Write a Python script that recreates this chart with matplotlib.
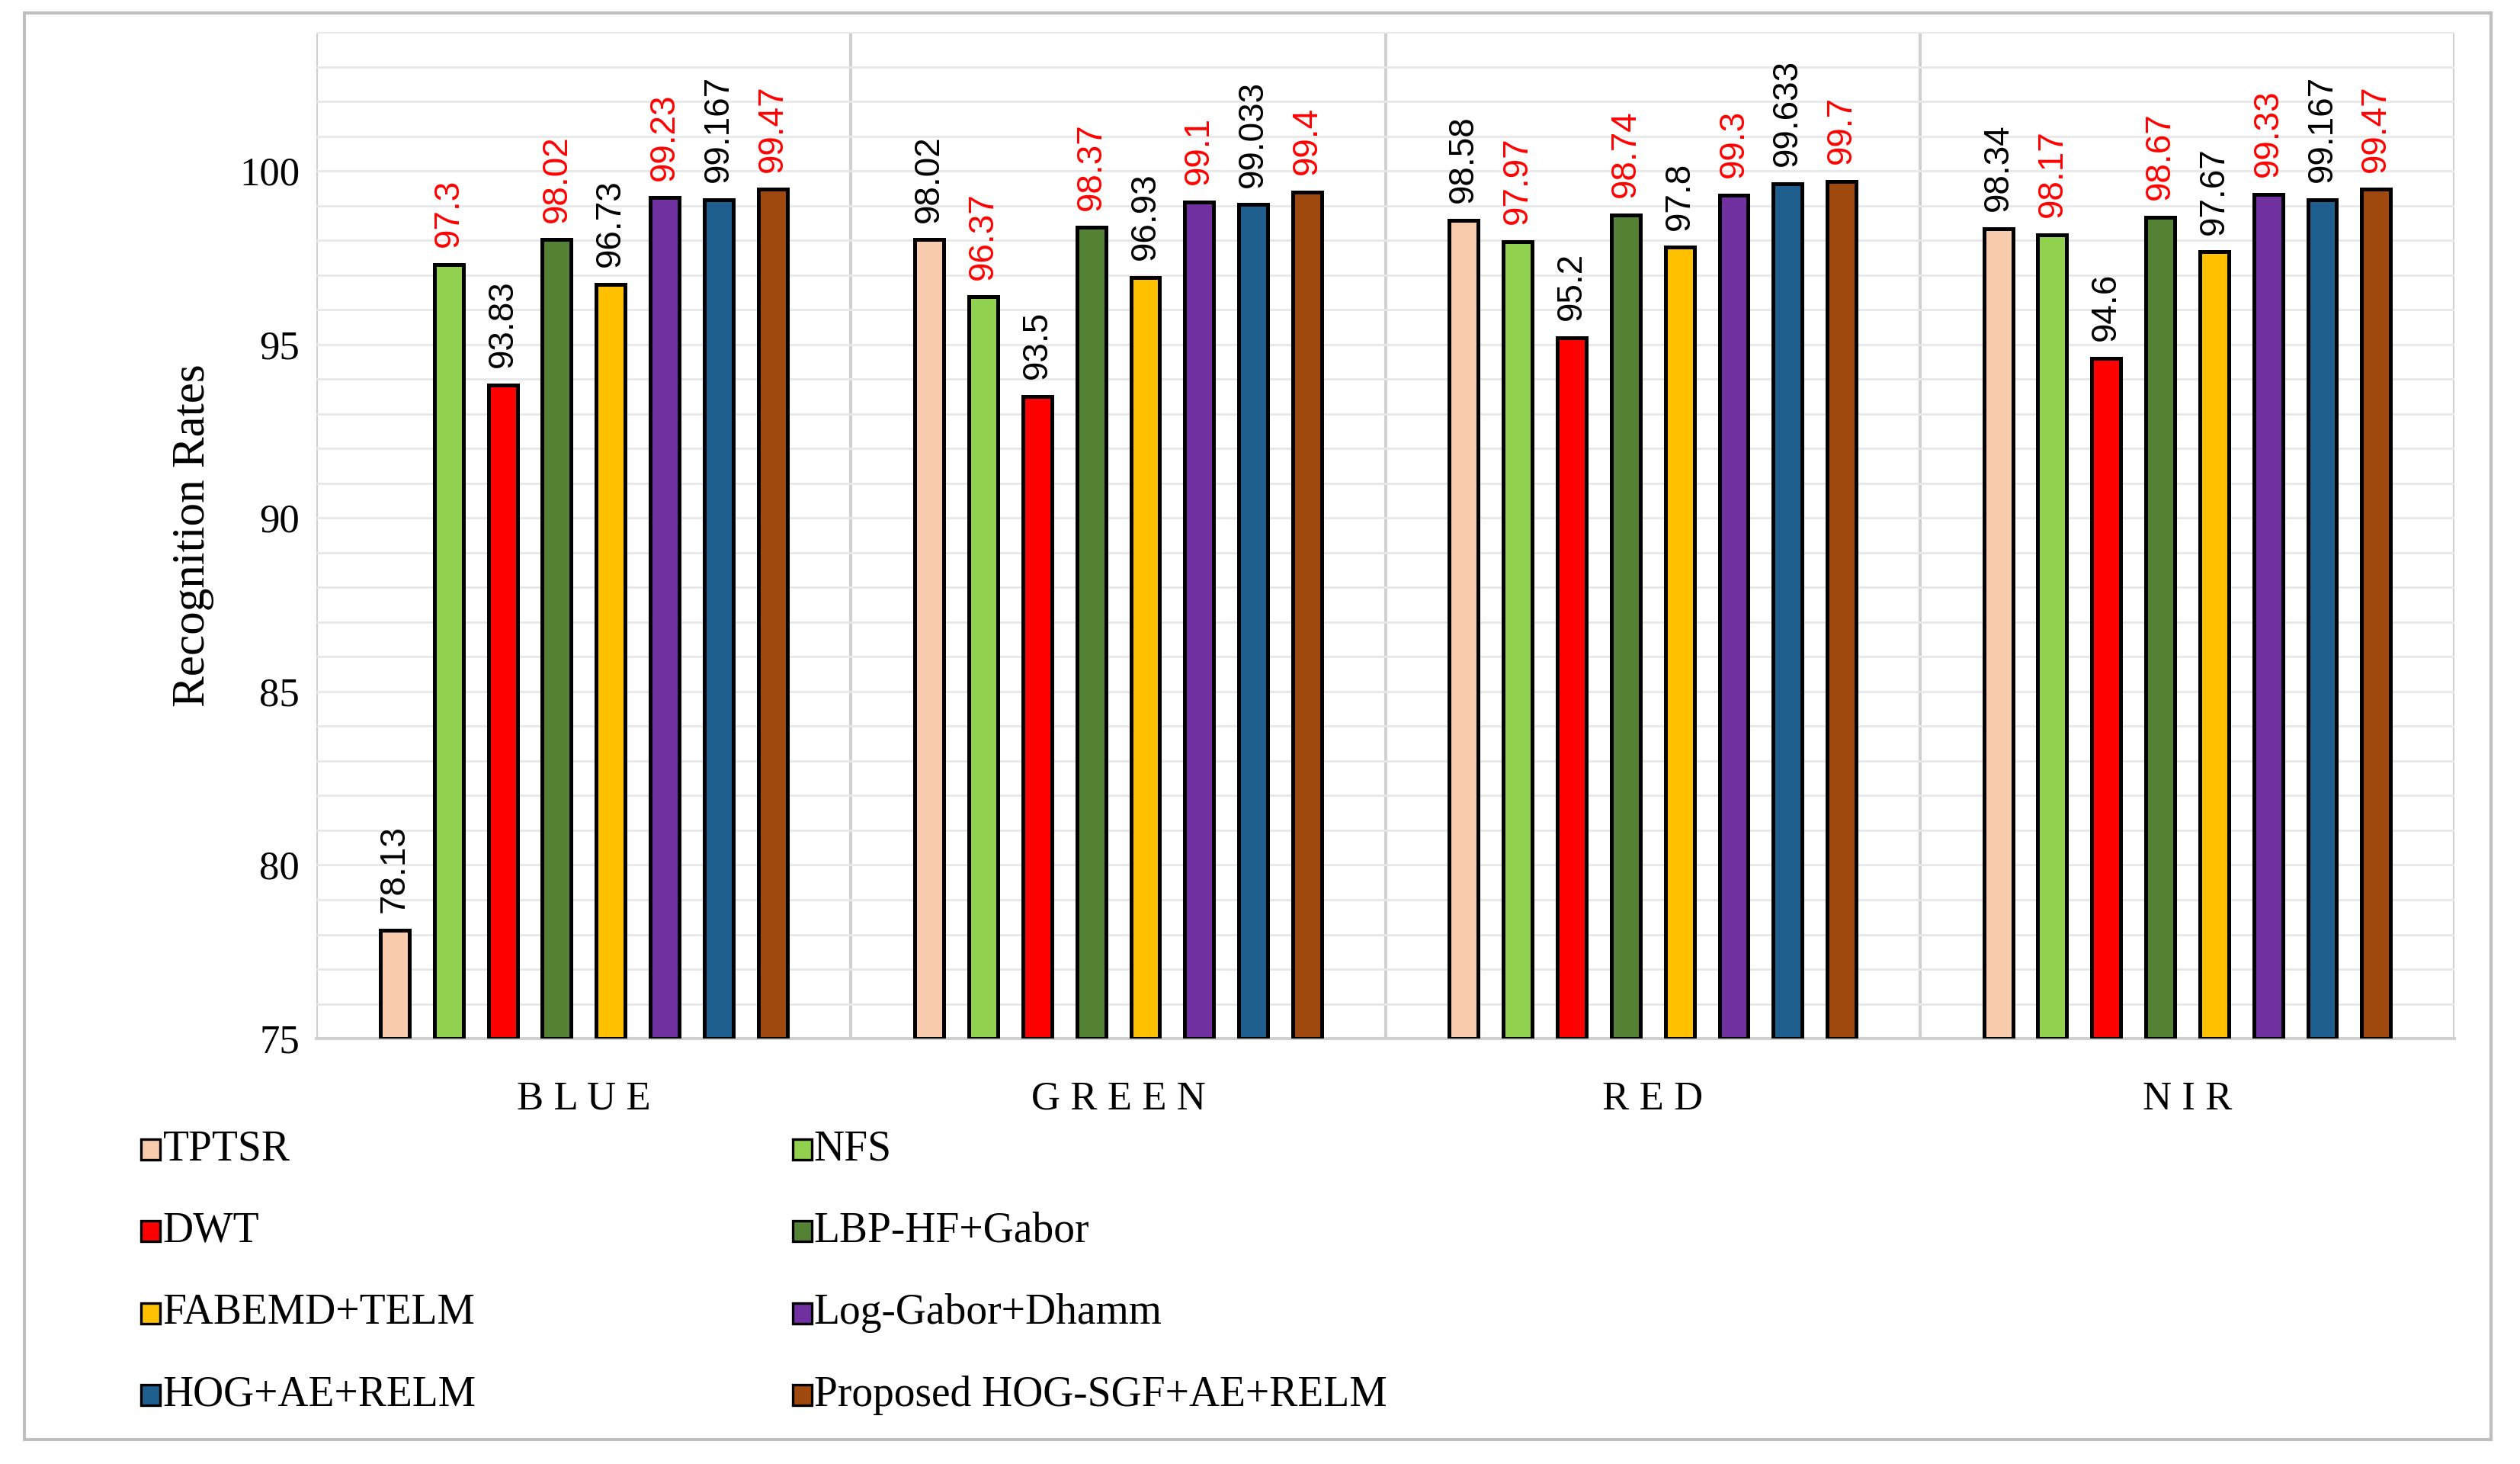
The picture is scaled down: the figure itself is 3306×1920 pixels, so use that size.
import numpy as np
import matplotlib
matplotlib.use("Agg")
import matplotlib.pyplot as plt
from matplotlib.patches import Rectangle

groups = ["B L U E", "G R E E N", "R E D", "N I R"]
methods = ["TPTSR", "NFS", "DWT", "LBP-HF+Gabor", "FABEMD+TELM",
           "Log-Gabor+Dhamm", "HOG+AE+RELM", "Proposed HOG-SGF+AE+RELM"]
colors = ["#F8CBAD", "#92D050", "#FF0000", "#548235", "#FFC000",
          "#7030A0", "#1F5F8F", "#A0490F"]
label_colors = ["black", "red", "black", "red", "black", "red", "black", "red"]

values = [
    [78.13, 97.3, 93.83, 98.02, 96.73, 99.23, 99.167, 99.47],   # BLUE
    [98.02, 96.37, 93.5, 98.37, 96.93, 99.1, 99.033, 99.4],     # GREEN
    [98.58, 97.97, 95.2, 98.74, 97.8, 99.3, 99.633, 99.7],      # RED
    [98.34, 98.17, 94.6, 98.67, 97.67, 99.33, 99.167, 99.47],   # NIR
]

serif = "Liberation Serif"
sans = "Liberation Sans"

fig = plt.figure(figsize=(16.53, 9.6), dpi=200)
ax = fig.add_axes([0.1256, 0.2906, 0.8484, 0.6874])

base = 75
spacing = 0.101
width = 0.054
for g, vals in enumerate(values):
    for i, v in enumerate(vals):
        x = g + (i - 3.5) * spacing
        ax.bar(x, v - base, width, bottom=base, color=colors[i],
               edgecolor="black", linewidth=1.8, zorder=3)
        ax.text(x, v + 0.5, f"{v:g}", rotation=90, ha="center", va="bottom",
                fontsize=16.5, color=label_colors[i], family=sans, zorder=4)

ax.set_xlim(-0.5, 3.5)
ax.set_ylim(75, 104)
ax.set_yticks(np.arange(75, 101, 5))
ax.set_yticks(np.arange(75, 105, 1), minor=True)
ax.tick_params(axis="y", which="both", length=0, labelsize=19, pad=8)
ax.grid(axis="y", which="both", color="#E8E8E8", linewidth=1.0, zorder=0)
ax.set_xticks(range(4))
ax.set_xticklabels(groups, family=serif, fontsize=19)
ax.tick_params(axis="x", length=0, pad=20)
for lab in ax.get_yticklabels():
    lab.set_family(serif)
for g in range(5):
    ax.axvline(g - 0.5, color="#D0D0D0", linewidth=1.5, zorder=1)
for s in ["top", "right", "left"]:
    ax.spines[s].set_visible(False)
ax.spines["bottom"].set_color("#D0D0D0")
ax.spines["bottom"].set_linewidth(1.5)
ax.set_ylabel("Recognition Rates", family=serif, fontsize=22, labelpad=12)

# legend, two columns
col_x = [0.0606, 0.319]
row_y = [0.215, 0.159, 0.103, 0.047]
for i, (m, c) in enumerate(zip(methods, colors)):
    x = col_x[i % 2]
    y = row_y[i // 2]
    fig.patches.append(Rectangle((x - 0.0045, y - 0.007), 0.0075, 0.014,
                                 transform=fig.transFigure, facecolor=c,
                                 edgecolor="black", linewidth=1.2))
    fig.text(x + 0.004, y, m, family=serif, fontsize=20, va="center", ha="left")

# outer chart border
fig.patches.append(Rectangle((0.0096, 0.0165), 0.9789, 0.9748,
                             transform=fig.transFigure, fill=False,
                             edgecolor="#BFBFBF", linewidth=1.5))

fig.savefig("out.png", dpi=200)
